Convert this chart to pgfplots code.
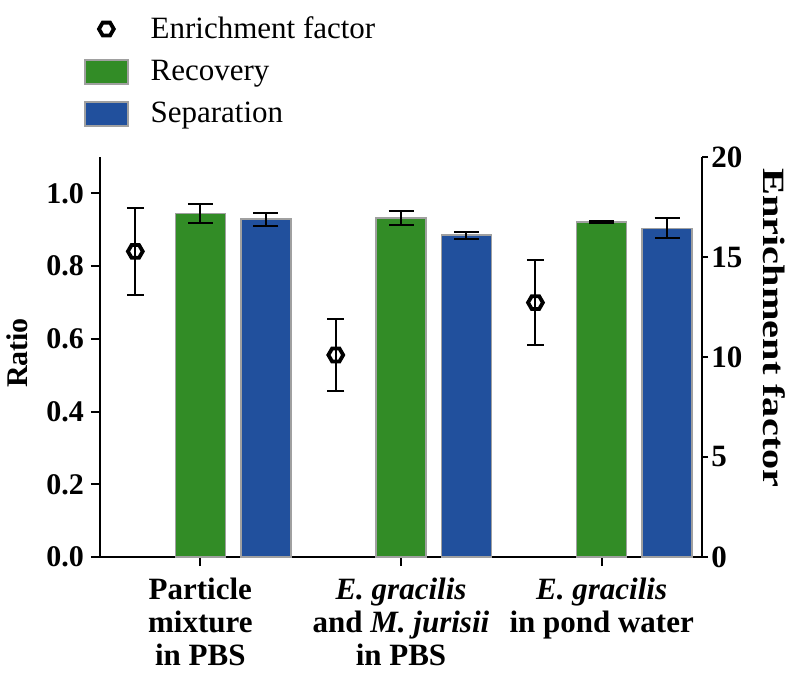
\documentclass[border=0pt]{standalone}
\usepackage{fontspec}
\setmainfont{Liberation Serif}
\usepackage{graphicx}
\usepackage{pgfplots}
\pgfplotsset{compat=1.18}

\definecolor{recgreen}{RGB}{50,140,38}
\definecolor{sepblue}{RGB}{33,80,157}
\definecolor{bargray}{RGB}{160,160,160}

\pgfdeclareplotmark{hexo}{%
  \pgfpathmoveto{\pgfpointpolar{0}{\pgfplotmarksize}}%
  \pgfpathlineto{\pgfpointpolar{60}{\pgfplotmarksize}}%
  \pgfpathlineto{\pgfpointpolar{120}{\pgfplotmarksize}}%
  \pgfpathlineto{\pgfpointpolar{180}{\pgfplotmarksize}}%
  \pgfpathlineto{\pgfpointpolar{240}{\pgfplotmarksize}}%
  \pgfpathlineto{\pgfpointpolar{300}{\pgfplotmarksize}}%
  \pgfpathclose
  \pgfusepathqstroke}

\pgfplotsset{
  boxlegend/.style={legend image code/.code={\draw[##1] (0pt,-6pt) rectangle (21.5pt,6pt);}},
  marklegend/.style={legend image code/.code={\draw[mark repeat=2,mark phase=2,##1] plot coordinates {(0pt,0pt)(10.75pt,0pt)(21.5pt,0pt)};}},
}

\begin{document}
\begin{tikzpicture}
\useasboundingbox (-50pt,-58.5pt) rectangle (345.5pt,278.5pt);
% left axis: bars
\begin{axis}[
  width=301pt, height=200pt, scale only axis,
  xmin=-0.5, xmax=2.5, ymin=0, ymax=1.1,
  axis x line*=bottom, axis y line*=left,
  axis line style={-, line width=1pt},
  xtick={0,1,2}, ytick={0,0.2,0.4,0.6,0.8,1.0},
  xticklabels={{Particle\\mixture\\in PBS},{\textit{E. gracilis}\\and \textit{M. jurisii}\\in PBS},{\textit{E. gracilis}\\in pond water}},
  tick align=outside, major tick length=4.5pt,
  tick style={black, line width=1pt},
  /pgf/number format/assume math mode=true,
  yticklabel style={/pgf/number format/fixed, /pgf/number format/fixed zerofill, /pgf/number format/precision=1, font=\fontsize{15}{15}\selectfont\bfseries},
  xticklabel style={align=center, font=\fontsize{15.5}{16.5}\selectfont\bfseries, yshift=-2.5pt},
  every axis y label/.style={at={(axis description cs:-0.137,0.51)}, anchor=center, rotate=90},
  ylabel={\fontsize{15}{15}\selectfont\bfseries Ratio},
  clip=false,
]
\addplot[ybar, bar width=25pt, bar shift=0pt, fill=recgreen, draw=bargray, line width=0.75pt,
  error bars/.cd, y dir=both, y explicit,
  error bar style={black, line width=1pt},
  error mark options={black, line width=1pt, mark size=6.25pt, rotate=90}]
  coordinates {(0,0.945) +- (0,0.026) (1,0.932) +- (0,0.019) (2,0.921) +- (0,0.003)};
\addplot[ybar, bar width=25pt, bar shift=0pt, fill=sepblue, draw=bargray, line width=0.75pt,
  error bars/.cd, y dir=both, y explicit,
  error bar style={black, line width=1pt},
  error mark options={black, line width=1pt, mark size=6.25pt, rotate=90}]
  coordinates {(0.326,0.929) +- (0,0.018) (1.326,0.885) +- (0,0.010) (2.326,0.904) +- (0,0.027)};
\end{axis}
% right axis: enrichment factor
\begin{axis}[
  width=301pt, height=200pt, scale only axis,
  xmin=-0.5, xmax=2.5, ymin=0, ymax=20,
  axis y line*=right, axis x line=none,
  axis line style={-, line width=1pt},
  ytick={0,5,10,15,20},
  tick align=outside, major tick length=3pt,
  tick style={black, line width=1pt},
  /pgf/number format/assume math mode=true,
  yticklabel style={font=\fontsize{15.5}{15.5}\selectfont\bfseries, inner xsep=1.5pt},
  every axis y label/.style={at={(axis description cs:1.12,0.5725)}, anchor=center, rotate=-90},
  ylabel={\fontsize{15.5}{15.5}\selectfont\bfseries\scalebox{1.3}[1]{Enrichment factor}},
  legend style={at={(axis description cs:-0.037,1.372)}, anchor=north west, draw=none, fill=none,
    font=\fontsize{15.5}{15.5}\selectfont, row sep=5.4pt, cells={anchor=west},
    /tikz/column 1/.style={column sep=9pt}},
  clip=false,
]
\addplot[only marks, mark=hexo, mark size=3.7pt, mark options={black, line width=1.9pt},
  marklegend,
  error bars/.cd, y dir=both, y explicit,
  error bar style={black, line width=1pt},
  error mark options={black, line width=1pt, mark size=4.25pt, rotate=90}]
  coordinates {(-0.324,15.28) +- (0,2.18) (0.675,10.1) +- (0,1.78) (1.67,12.72) +- (0,2.12)};
\addlegendentry{Enrichment factor}
\addlegendimage{boxlegend, fill=recgreen, draw=bargray, line width=0.75pt}
\addlegendentry{Recovery}
\addlegendimage{boxlegend, fill=sepblue, draw=bargray, line width=0.75pt}
\addlegendentry{Separation}
\end{axis}
\end{tikzpicture}
\end{document}
